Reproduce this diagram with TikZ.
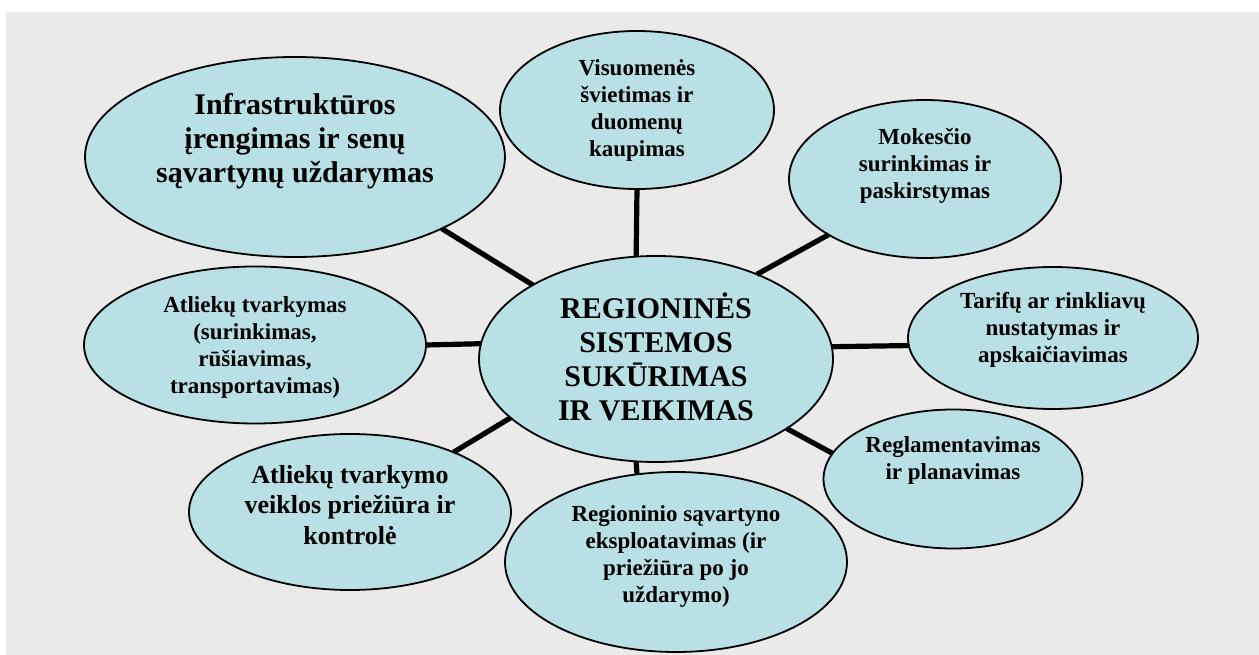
\documentclass[tikz,border=0pt]{standalone}
\usepackage{fontspec}
\setmainfont{Liberation Serif}
\usetikzlibrary{shapes.geometric}
\definecolor{bubblefill}{RGB}{185,224,228}
\definecolor{bggray}{RGB}{234,234,234}
\begin{document}
\begin{tikzpicture}[x=1pt, y=-1pt, line width=5.2pt,
        main/.style = {draw, ellipse, fill=bubblefill, line width=1.8pt, inner sep=0pt, outer sep=0pt},
        txt/.style = {align=center, font=\bfseries\fontsize{23}{27}\selectfont},
        mid/.style = {align=center, font=\bfseries\fontsize{26}{30.5}\selectfont},
        big/.style = {align=center, font=\bfseries\fontsize{30}{34}\selectfont}]
        \useasboundingbox (0,0) rectangle (1259,655);
        \fill[bggray] (6,12) rectangle (1259,655);
        \node[main, minimum width=354pt, minimum height=206pt, label={[big, yshift=2pt]center:{REGIONINĖS\\SISTEMOS\\SUKŪRIMAS\\IR VEIKIMAS}}] (0) at (656,359) {};
        \node[main, minimum width=420pt, minimum height=200pt, label={[big, yshift=16pt]center:{Infrastruktūros\\įrengimas ir senų\\sąvartynų uždarymas}}] (1) at (295,157) {};
        \node[main, minimum width=274pt, minimum height=158pt, label={[txt]center:{Visuomenės\\švietimas ir\\duomenų\\kaupimas}}] (2) at (637,110) {};
        \node[main, minimum width=272pt, minimum height=158pt, label={[txt, yshift=13pt]center:{Mokesčio\\surinkimas ir\\paskirstymas}}] (3) at (925,179) {};
        \node[main, minimum width=290pt, minimum height=142pt, label={[txt, yshift=8pt]center:{Tarifų ar rinkliavų\\nustatymas ir\\apskaičiavimas}}] (4) at (1053,338) {};
        \node[main, minimum width=259pt, minimum height=139pt, label={[txt, yshift=19pt]center:{Reglamentavimas\\ir planavimas}}] (5) at (953,479) {};
        \node[main, minimum width=342pt, minimum height=180pt, label={[txt, yshift=6pt]center:{Regioninio sąvartyno\\eksploatavimas (ir\\priežiūra po jo\\uždarymo)}}] (6) at (676,562) {};
        \node[main, minimum width=322pt, minimum height=156pt, label={[mid, yshift=7pt]center:{Atliekų tvarkymo\\veiklos priežiūra ir\\kontrolė}}] (7) at (350,512) {};
        \node[main, minimum width=342pt, minimum height=157pt, label={[txt, yshift=-2pt]center:{Atliekų tvarkymas\\(surinkimas,\\rūšiavimas,\\transportavimas)}}] (8) at (255,345) {};
        \draw (1.-26.7) -- (0.149);
        \draw (2.south) -- (0.101);
        \draw (3.210.3) -- (0.40.4);
        \draw (4.183) -- (0.4.4);
        \draw (5.168.4) -- (0.-28.7);
        \draw (6.114) -- (0.259.5);
        \draw (7.30.9) -- (0.202.3);
        \draw (8.east) -- (0.175.8);
\end{tikzpicture}
\end{document}
